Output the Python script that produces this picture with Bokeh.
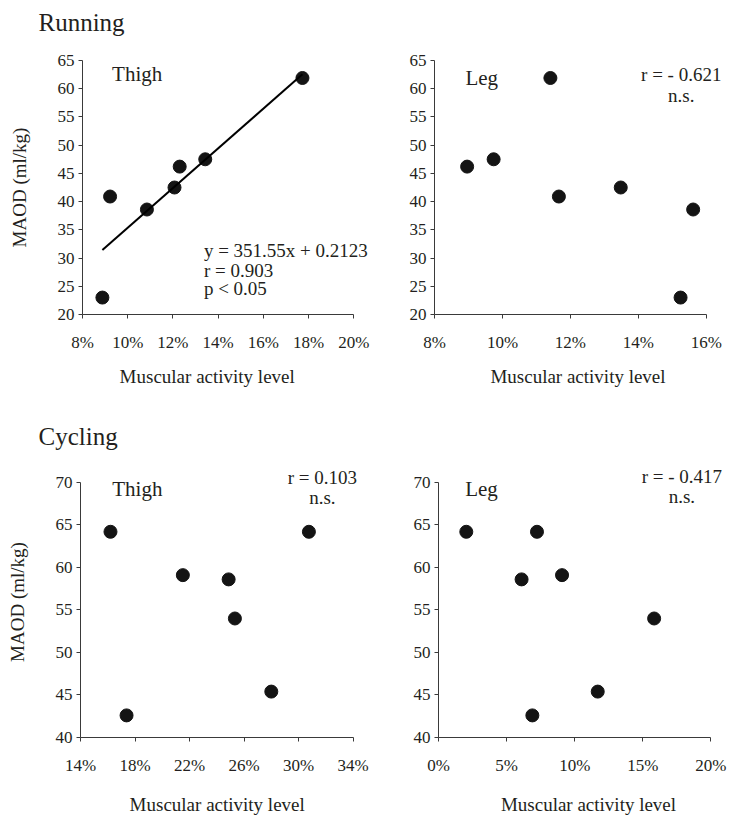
from bokeh.plotting import figure
from bokeh.models import Range1d, FixedTicker, PrintfTickFormatter, Label
from bokeh.layouts import column, row
from bokeh.embed import file_html
from bokeh.resources import INLINE

# ---------------- data ----------------
run_maod = [23.0, 40.9, 38.6, 42.5, 46.2, 47.5, 61.9]
run_thigh = [8.88, 9.22, 10.85, 12.07, 12.30, 13.43, 17.73]
run_leg = [15.24, 11.66, 15.61, 13.48, 8.96, 9.74, 11.41]

cyc_maod = [64.2, 42.6, 59.1, 58.6, 54.0, 45.4, 64.2]
cyc_thigh = [16.20, 17.38, 21.51, 24.87, 25.33, 28.00, 30.76]
cyc_leg = [2.04, 6.89, 9.07, 6.10, 15.83, 11.69, 7.23]

run_slope = 351.55
run_intercept = 0.2123

run_thigh_ticks = [8, 10, 12, 14, 16, 18, 20]
run_leg_ticks = [8, 10, 12, 14, 16]
run_y_ticks = [20, 25, 30, 35, 40, 45, 50, 55, 60, 65]
cyc_thigh_ticks = [14, 18, 22, 26, 30, 34]
cyc_leg_ticks = [0, 5, 10, 15, 20]
cyc_y_ticks = [40, 45, 50, 55, 60, 65, 70]

x_title = "Muscular activity level"
y_title = "MAOD (ml/kg)"

FONT = "Liberation Serif"
TXT = "#231f20"
DOT = "#141414"
AX = "#3a3a3a"


def make(width, height, xr, yr, xb, yb, xt, yt, left, right, top, bottom, ylabel):
    p = figure(width=width, height=height, x_range=Range1d(*xr), y_range=Range1d(*yr),
               output_backend="svg", toolbar_location=None,
               min_border_left=left, min_border_right=right,
               min_border_top=top, min_border_bottom=bottom)
    p.outline_line_color = None
    p.xgrid.visible = False
    p.ygrid.visible = False
    p.xaxis.ticker = FixedTicker(ticks=xt)
    p.yaxis.ticker = FixedTicker(ticks=yt)
    p.xaxis.bounds = xb
    p.yaxis.bounds = yb
    p.xaxis.formatter = PrintfTickFormatter(format="%d%%")
    for ax in (p.xaxis[0], p.yaxis[0]):
        ax.axis_line_color = AX
        ax.axis_line_width = 1
        ax.major_tick_line_color = AX
        ax.major_tick_in = 0
        ax.major_tick_out = 4
        ax.minor_tick_line_color = None
        ax.major_label_text_font = FONT
        ax.major_label_text_font_size = "17px"
        ax.major_label_text_color = TXT
        ax.axis_label_text_font = FONT
        ax.axis_label_text_font_size = "19px"
        ax.axis_label_text_font_style = "normal"
        ax.axis_label_text_color = TXT
    p.xaxis.major_label_standoff = 14
    if ylabel:
        p.yaxis.axis_label = ylabel
    p.yaxis.major_label_standoff = 4
    p.yaxis.axis_label_standoff = 25
    return p


def lab(p, x, y, text, align="left", size="19px"):
    p.add_layout(Label(x=x, y=y, text=text, text_font=FONT, text_font_size=size,
                       text_color=TXT, text_align=align, text_baseline="alphabetic"))


def strip(width, height):
    h = figure(width=width, height=height, x_range=Range1d(0, width), y_range=Range1d(height, 0),
               x_axis_type=None, y_axis_type=None, output_backend="svg",
               toolbar_location=None, min_border=0)
    h.outline_line_color = None
    return h


# heading strip
h1 = strip(733, 40)
lab(h1, 38, 22.3, "Running", size="25px")

# Running - thigh
p1 = make(370, 316, (8, 20.74), (20, 65), (8, 20), (20, 65), run_thigh_ticks, run_y_ticks,
          82, 0, 20, 42, y_title)
p1.scatter(run_thigh, run_maod, size=13, color=DOT)
lx = [min(run_thigh), max(run_thigh)]
p1.line(lx, [run_slope * v / 100 + run_intercept for v in lx], line_color="black", line_width=2)
lab(p1, 9.31, 62.69, "Thigh", size="21px")
lab(p1, 13.37, 31.32, "y = 351.55x + 0.2123")
lab(p1, 13.37, 27.77, "r = 0.903")
lab(p1, 13.37, 24.52, "p < 0.05")

# Running - leg
p2 = make(363, 316, (8, 16.65), (20, 65), (8, 16), (20, 65), run_leg_ticks, run_y_ticks,
          64, 5, 17, 42, "")
p2.scatter(run_leg, run_maod, size=13, color=DOT)
lab(p2, 8.91, 61.91, "Leg", size="21px")
lab(p2, 15.26, 62.51, "r = - 0.621", "center")
lab(p2, 15.26, 58.83, "n.s.", "center")

# middle strip: x titles of row 1 + Cycling heading
h2 = strip(733, 104)
lab(h2, 206.7, 20.3, x_title, "center")
lab(h2, 577.5, 20.3, x_title, "center")
lab(h2, 38, 80.3, "Cycling", size="25px")

# Cycling - thigh
p3 = make(370, 319, (14, 35.28), (40, 71.88), (14, 34), (40, 70), cyc_thigh_ticks, cyc_y_ticks,
          80, 0, 6, 42, y_title)
p3.scatter(cyc_thigh, cyc_maod, size=13, color=DOT)
lab(p3, 16.33, 69.25, "Thigh", size="21px")
lab(p3, 31.75, 70.62, "r = 0.103", "center")
lab(p3, 31.75, 68.28, "n.s.", "center")

# Cycling - leg
p4 = make(363, 319, (0, 21.29), (40, 71.88), (0, 20), (40, 70), cyc_leg_ticks, cyc_y_ticks,
          68, 5, 6, 42, "")
p4.scatter(cyc_leg, cyc_maod, size=13, color=DOT)
lab(p4, 1.96, 69.25, "Leg", size="21px")
lab(p4, 17.87, 70.75, "r = - 0.417", "center")
lab(p4, 17.87, 68.4, "n.s.", "center")

# bottom strip: x titles of row 2
h3 = strip(733, 36)
lab(h3, 216.7, 24.5, x_title, "center")
lab(h3, 588, 24.5, x_title, "center")

layout = column(h1, row(p1, p2), h2, row(p3, p4), h3)
open("out.html", "w").write(file_html(layout, INLINE))
